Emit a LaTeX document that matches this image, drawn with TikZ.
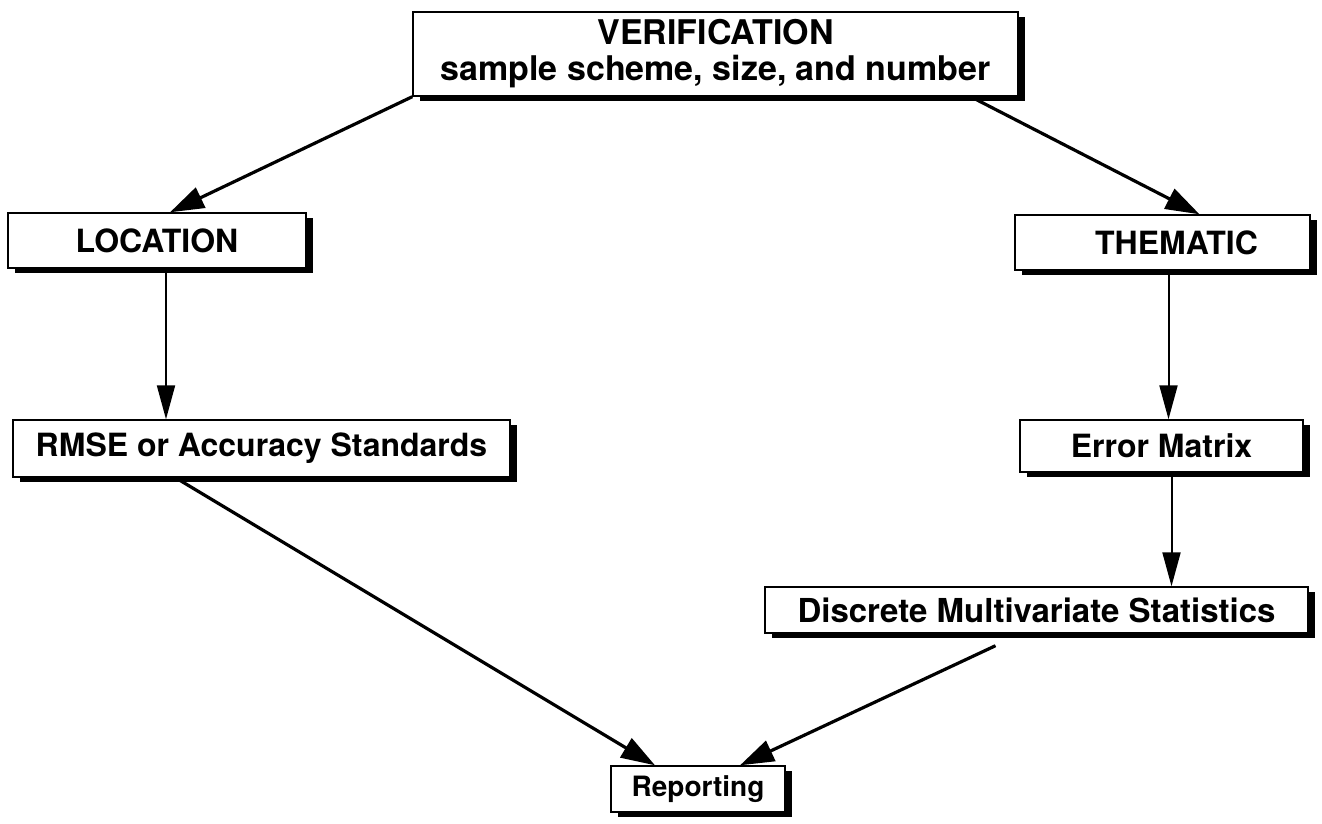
\documentclass[tikz,border=0pt]{standalone}
\usepackage{fontspec}
\setmainfont{TeX Gyre Heros}
\usetikzlibrary{arrows.meta,shadows}
\begin{document}
\begin{tikzpicture}[x=1pt,y=-1pt,
  box/.style={draw=black, line width=1.4pt, fill=white, inner sep=0pt,
    font=\fontsize{32}{36}\selectfont\bfseries, align=center,
    general shadow={fill=black, shadow xshift=7pt, shadow yshift=-5pt}},
  arr/.style={line width=2pt, -{Triangle[length=34pt,width=18pt]}},
  darr/.style={line width=3.2pt, -{Triangle[length=34pt,width=22pt]}}]
\useasboundingbox (0,0) rectangle (1322,824);
% boxes
\node[box, minimum width=605pt, minimum height=84pt,
  font=\fontsize{34}{36}\selectfont\bfseries] (verif) at (715.5,54)
  {VERIFICATION\\sample scheme, size, and number};
\node[box, minimum width=298pt, minimum height=55pt] (loc) at (157,240.5) {LOCATION};
\node[box, minimum width=295pt, minimum height=55pt] (them) at (1162.5,242.5) {\hspace*{28pt}THEMATIC};
\node[box, minimum width=497pt, minimum height=57pt] (rmse) at (261.5,448.5) {RMSE or Accuracy Standards};
\node[box, minimum width=283pt, minimum height=52pt] (err) at (1161.5,446) {Error Matrix};
\node[box, minimum width=543pt, minimum height=46pt,
  font=\fontsize{33}{36}\selectfont\bfseries] (disc) at (1036.5,610) {Discrete Multivariate Statistics};
\node[box, minimum width=174pt, minimum height=46pt,
  font=\fontsize{28}{32}\selectfont\bfseries] (rep) at (698,789) {Reporting};
% connectors
\draw[darr] (verif.south west) -- ([xshift=13pt]loc.north);
\draw[darr] ([xshift=-48pt]verif.south east) -- ([xshift=37pt]them.north);
\draw[arr] ([xshift=9pt]loc.south) -- ([xshift=9pt]loc.south |- rmse.north);
\draw[arr] ([xshift=6pt]them.south) -- ([xshift=6pt]them.south |- err.north);
\draw[arr] ([xshift=10pt]err.south) -- ([xshift=10pt]err.south |- disc.north);
\draw[darr] ([xshift=-86pt]rmse.south) -- ([xshift=-43pt]rep.north);
\coordinate (dstart) at ([xshift=-41pt,yshift=-12pt]disc.south);
\draw[darr] (dstart) -- ([xshift=42pt]rep.north);
\end{tikzpicture}
\end{document}
